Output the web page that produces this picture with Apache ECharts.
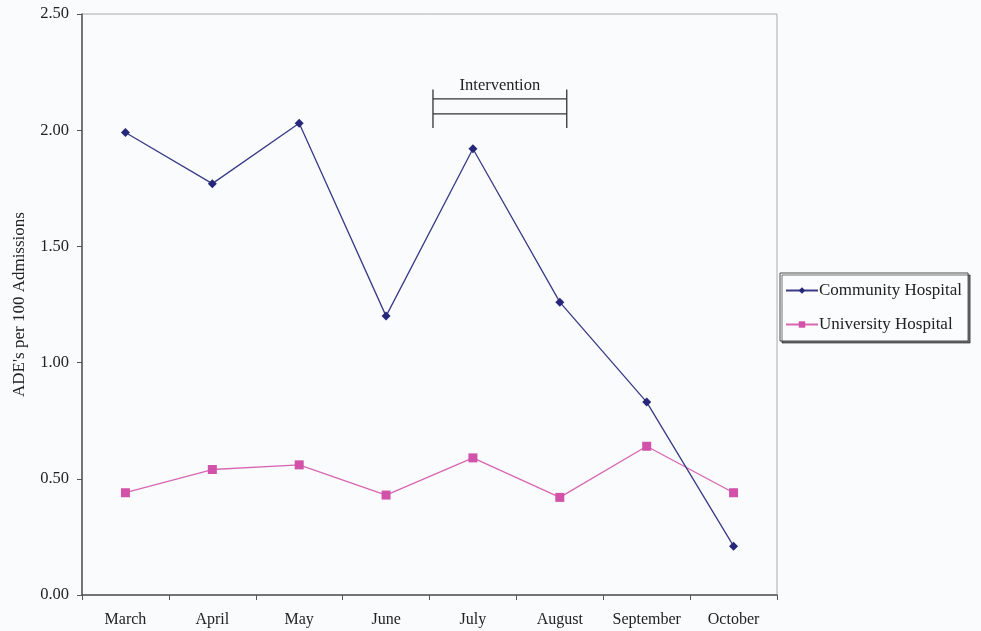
<!DOCTYPE html>
<html>
<head>
<meta charset="utf-8">
<script src="https://cdn.jsdelivr.net/npm/echarts@6/dist/echarts.min.js"></script>
<style>
  html, body { margin: 0; padding: 0; background: #f9fbfc; }
  #chart { width: 981px; height: 631px; }
</style>
</head>
<body>
<div id="chart"></div>
<script>
// Monthly adverse drug events per 100 admissions
const months = ['March', 'April', 'May', 'June', 'July', 'August', 'September', 'October'];
const communityHospital = [1.99, 1.77, 2.03, 1.20, 1.92, 1.26, 0.83, 0.21];
const universityHospital = [0.44, 0.54, 0.56, 0.43, 0.59, 0.42, 0.64, 0.44];
const yTicks = { min: 0, max: 2.5, interval: 0.5 };

// Intervention period bracket (category index span and value band)
const interventionLabel = 'Intervention';
const interventionSpan = [3.54, 5.08];
const interventionBand = { outerTop: 2.175, outerBottom: 2.01, innerTop: 2.135, innerBottom: 2.07 };

const serif = '"Liberation Serif", "DejaVu Serif", serif';
const chart = echarts.init(document.getElementById('chart'), null, { renderer: 'canvas' });

chart.setOption({
  backgroundColor: '#f9fbfc',
  animation: false,
  grid: {
    left: 82, top: 14, right: 204, bottom: 36,
    show: true, borderColor: '#a9abad', borderWidth: 1, backgroundColor: 'transparent'
  },
  legend: {
    orient: 'vertical',
    left: 780, top: 273,
    padding: [9, 6, 8, 5],
    itemGap: 17,
    itemWidth: 32, itemHeight: 8,
    backgroundColor: '#fbfcfd',
    borderColor: '#4a4a4a', borderWidth: 1,
    shadowColor: 'rgba(0,0,0,0.55)', shadowOffsetX: 2, shadowOffsetY: 2, shadowBlur: 0,
    textStyle: { fontFamily: serif, fontSize: 17, color: '#222', padding: [0, 0, 0, -4] },
    data: ['Community Hospital', 'University Hospital']
  },
  xAxis: {
    type: 'category',
    data: months,
    boundaryGap: true,
    axisLine: { lineStyle: { color: '#555', width: 1.5 } },
    axisTick: { show: true, interval: 0, length: 5, inside: false, lineStyle: { color: '#555' } },
    axisLabel: { interval: 0, hideOverlap: false, fontFamily: serif, fontSize: 16, color: '#222', margin: 17 },
    splitLine: { show: false }
  },
  yAxis: {
    type: 'value',
    min: yTicks.min, max: yTicks.max, interval: yTicks.interval,
    name: "ADE's per 100 Admissions",
    nameLocation: 'middle',
    nameGap: 54,
    nameTextStyle: { fontFamily: serif, fontSize: 17, color: '#222' },
    axisLine: { show: true, lineStyle: { color: '#555', width: 1.5 } },
    axisTick: { show: true, length: 5, lineStyle: { color: '#555' } },
    axisLabel: { fontFamily: serif, fontSize: 16.5, color: '#222', margin: 13,
      formatter: v => v.toFixed(2) },
    splitLine: { show: false }
  },
  series: [
    {
      name: 'Community Hospital',
      type: 'line',
      data: communityHospital,
      symbol: 'diamond',
      symbolSize: 9,
      itemStyle: { color: '#26267a' },
      lineStyle: { color: '#3a3a86', width: 1.3 },
      z: 3
    },
    {
      name: 'University Hospital',
      type: 'line',
      data: universityHospital,
      symbol: 'rect',
      symbolSize: 9,
      itemStyle: { color: '#d152a8' },
      lineStyle: { color: '#d866b2', width: 1.3 },
      z: 2
    }
  ]
});

// Draw the intervention bracket in data space
function xAt(idx) {
  const lo = Math.floor(idx), hi = Math.min(lo + 1, months.length - 1);
  const pLo = chart.convertToPixel({ xAxisIndex: 0 }, months[lo]);
  const pHi = chart.convertToPixel({ xAxisIndex: 0 }, months[hi]);
  return pLo + (pHi - pLo) * (idx - lo);
}
function yAt(v) { return chart.convertToPixel({ yAxisIndex: 0 }, v); }

const x1 = xAt(interventionSpan[0]), x2 = xAt(interventionSpan[1]);
const yo1 = yAt(interventionBand.outerTop), yo2 = yAt(interventionBand.outerBottom);
const yi1 = yAt(interventionBand.innerTop), yi2 = yAt(interventionBand.innerBottom);
const stroke = { stroke: '#333', lineWidth: 1.3 };

chart.setOption({
  graphic: [
    { type: 'line', shape: { x1: x1, y1: yo1, x2: x1, y2: yo2 }, style: stroke, z: 10 },
    { type: 'line', shape: { x1: x2, y1: yo1, x2: x2, y2: yo2 }, style: stroke, z: 10 },
    { type: 'line', shape: { x1: x1, y1: yi1, x2: x2, y2: yi1 }, style: stroke, z: 10 },
    { type: 'line', shape: { x1: x1, y1: yi2, x2: x2, y2: yi2 }, style: stroke, z: 10 },
    { type: 'text', x: (x1 + x2) / 2, y: yi1 - 5,
      style: { text: interventionLabel, font: '16.5px ' + serif, fill: '#222',
        align: 'center', verticalAlign: 'bottom' }, z: 10 }
  ]
});
</script>
</body>
</html>
